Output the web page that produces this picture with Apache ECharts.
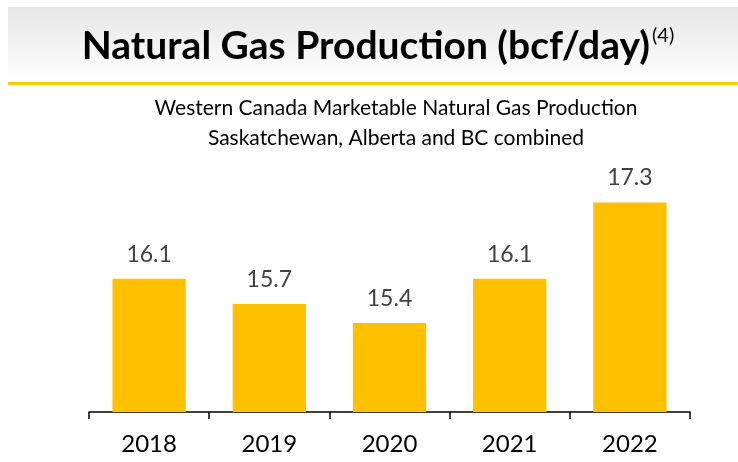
<!DOCTYPE html>
<html>
<head>
<meta charset="utf-8">
<script src="https://cdn.jsdelivr.net/npm/echarts@6/dist/echarts.min.js"></script>
<style>
  html, body { margin: 0; padding: 0; background: #ffffff; }
  #chart { width: 738px; height: 462px; }
</style>
</head>
<body>
<div id="chart"></div>
<script>
// Western Canada marketable natural gas production, bcf/day
const years = ['2018', '2019', '2020', '2021', '2022'];
const production = [16.1, 15.7, 15.4, 16.1, 17.3];

const titleMain = 'Natural Gas Production (bcf/day)';
const titleNote = '(4)';
const subtitleLines = [
  'Western Canada Marketable Natural Gas Production',
  'Saskatchewan, Alberta and BC combined'
];

const FONT = 'Lato, "Open Sans", sans-serif';
const chart = echarts.init(document.getElementById('chart'), null, { renderer: 'canvas' });

chart.setOption({
  animation: false,
  backgroundColor: '#ffffff',
  graphic: [
    {
      type: 'rect',
      shape: { x: 8, y: 7, width: 730, height: 76 },
      style: {
        fill: new echarts.graphic.LinearGradient(0, 0, 0, 1, [
          { offset: 0, color: '#e6e6e6' },
          { offset: 1, color: '#ffffff' }
        ])
      },
      silent: true
    },
    {
      type: 'rect',
      shape: { x: 8, y: 82, width: 730, height: 3 },
      style: { fill: '#ffcc00' },
      silent: true
    },
    {
      type: 'text',
      x: 378,
      y: 46,
      style: {
        text: '{m|' + titleMain + '}{s|' + titleNote + '}',
        align: 'center',
        verticalAlign: 'middle',
        rich: {
          m: { fontFamily: FONT, fontWeight: 'bold', fontSize: 39, fill: '#000000' },
          s: { fontFamily: FONT, fontSize: 20, fill: '#000000', verticalAlign: 'top', padding: [0, 0, 20, 2] }
        }
      },
      silent: true
    },
    {
      type: 'text',
      x: 396,
      y: 123,
      style: {
        text: subtitleLines.join('\n'),
        align: 'center',
        verticalAlign: 'middle',
        fontFamily: FONT,
        fontSize: 21,
        lineHeight: 30,
        fill: '#000000'
      },
      silent: true
    }
  ],
  grid: { left: 89, right: 48, top: 158, bottom: 50 },
  xAxis: {
    type: 'category',
    data: years,
    axisLine: { lineStyle: { color: '#000000', width: 1.5 } },
    axisTick: { show: true, length: 7, lineStyle: { color: '#000000', width: 1.5 } },
    axisLabel: { fontFamily: FONT, fontSize: 24, color: '#000000', margin: 20 }
  },
  yAxis: {
    type: 'value',
    min: 14,
    max: 18,
    show: false,
    splitLine: { show: false }
  },
  series: [
    {
      type: 'bar',
      data: production,
      barWidth: '61%',
      itemStyle: { color: '#ffc000' },
      label: {
        show: true,
        position: 'top',
        distance: 13,
        fontFamily: FONT,
        fontSize: 23,
        color: '#404040',
        formatter: p => p.value.toFixed(1)
      }
    }
  ]
});
</script>
</body>
</html>
